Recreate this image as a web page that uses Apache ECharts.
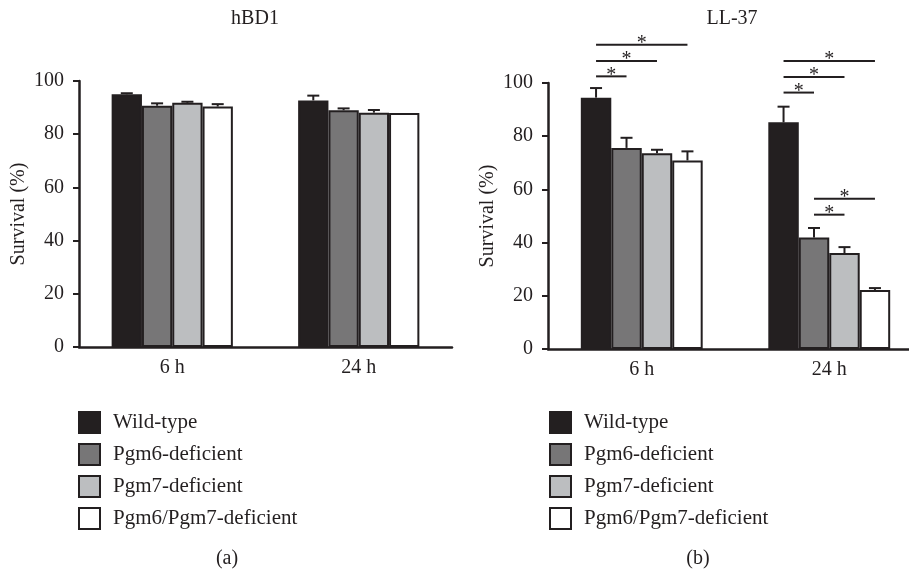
<!DOCTYPE html>
<html>
<head>
<meta charset="utf-8">
<script src="https://cdn.jsdelivr.net/npm/echarts@6/dist/echarts.min.js"></script>
<style>
  html, body { margin: 0; padding: 0; background: #fff; }
  #chart { width: 909px; height: 571px; }
</style>
</head>
<body>
<div id="chart"></div>
<script>
// categories and groups
const categories = ['6 h', '24 h']
const groups = ['Wild-type', 'Pgm6-deficient', 'Pgm7-deficient', 'Pgm6/Pgm7-deficient']
const yTicks = [0, 20, 40, 60, 80, 100]

// hBD1 survival (%) per group, [6 h, 24 h]
const hbd1Means = [[95.0, 92.7], [90.7, 89.0], [91.8, 88.1], [90.4, 88.0]]
const hbd1Errors = [[0.4, 1.8], [0.9, 0.7], [0.4, 1.0], [0.9, 0.0]]

// LL-37 survival (%) per group, [6 h, 24 h]
const ll37Means = [[94.5, 85.2], [75.6, 41.9], [73.6, 36.1], [70.9, 22.2]]
const ll37Errors = [[3.6, 5.9], [3.8, 3.6], [1.3, 2.2], [3.4, 0.7]]

// significance brackets on LL-37: [category, from group, to group, height]
const ll37Signif = [
  [0, 0, 1, 102.5], [0, 0, 2, 108.3], [0, 0, 3, 114.4],
  [1, 0, 1, 96.4], [1, 0, 2, 102.3], [1, 0, 3, 108.3],
  [1, 1, 2, 50.5], [1, 1, 3, 56.5]
]

const ink = '#231f20'
const fills = ['#231f20', '#777677', '#bcbec0', '#ffffff']
const font = 'Liberation Serif'
const GAP = 0.35

function barX(api, cat, grp, val) {
  const band = api.size([1, 0])[0]
  const bw = band * (1 - GAP) / groups.length
  const c = api.coord([cat, val])
  return [c[0] + (grp - (groups.length - 1) / 2) * bw, c[1]]
}

function errorItem(params, api) {
  const cat = api.value(0), grp = api.value(1), mean = api.value(2), err = api.value(3)
  if (!err) return
  const p = barX(api, cat, grp, mean)
  const top = api.coord([cat, mean + err])[1]
  const st = { stroke: ink, lineWidth: 2 }
  return {
    type: 'group',
    children: [
      { type: 'line', shape: { x1: p[0], y1: p[1], x2: p[0], y2: top }, style: st },
      { type: 'line', shape: { x1: p[0] - 6, y1: top, x2: p[0] + 6, y2: top }, style: st }
    ]
  }
}

function signifItem(params, api) {
  const cat = api.value(0), g1 = api.value(1), g2 = api.value(2), h = api.value(3)
  const a = barX(api, cat, g1, h)
  const b = barX(api, cat, g2, h)
  return {
    type: 'group',
    children: [
      { type: 'line', shape: { x1: a[0], y1: a[1], x2: b[0], y2: b[1] }, style: { stroke: ink, lineWidth: 2 } },
      { type: 'text', x: (a[0] + b[0]) / 2, y: a[1] - 1,
        style: { text: '*', fill: ink, font: '20px ' + font, textAlign: 'center', textVerticalAlign: 'middle' } }
    ]
  }
}

function errData(means, errors) {
  const out = []
  means.forEach((m, g) => m.forEach((v, c) => out.push([c, g, v, errors[g][c]])))
  return out
}

const chart = echarts.init(document.getElementById('chart'))

const grids = [
  { left: 79, top: 81, width: 373, height: 266, outerBoundsMode: 'none' },
  { left: 548, top: 83, width: 375, height: 266, outerBoundsMode: 'none' }
]

const xAxes = grids.map((g, i) => ({
  type: 'category', gridIndex: i, data: categories,
  axisLine: { lineStyle: { color: ink, width: 2.5 } },
  axisTick: { show: false },
  axisLabel: { color: ink, fontSize: 20, fontFamily: font, margin: 11 }
}))

const yAxes = grids.map((g, i) => ({
  type: 'value', gridIndex: i, min: yTicks[0], max: yTicks[yTicks.length - 1], interval: 20,
  name: 'Survival (%)', nameLocation: 'middle', nameGap: 50,
  nameTextStyle: { color: ink, fontSize: 20, fontFamily: font },
  splitLine: { show: false },
  axisLine: { show: true, lineStyle: { color: ink, width: 2.5 } },
  axisTick: { show: true, length: 6, lineStyle: { color: ink, width: 2 } },
  axisLabel: { color: ink, fontSize: 20, fontFamily: font, margin: 15 }
}))

const series = []
;[hbd1Means, ll37Means].forEach((means, i) => {
  means.forEach((vals, g) => {
    series.push({
      name: groups[g], type: 'bar', xAxisIndex: i, yAxisIndex: i,
      data: vals, barGap: 0, barCategoryGap: (GAP * 100) + '%',
      itemStyle: { color: fills[g], borderColor: ink, borderWidth: 2 },
      emphasis: { disabled: true }
    })
  })
})
series.push({ type: 'custom', xAxisIndex: 0, yAxisIndex: 0, renderItem: errorItem, data: errData(hbd1Means, hbd1Errors), z: 5 })
series.push({ type: 'custom', xAxisIndex: 1, yAxisIndex: 1, renderItem: errorItem, data: errData(ll37Means, ll37Errors), z: 5 })
series.push({ type: 'custom', xAxisIndex: 1, yAxisIndex: 1, renderItem: signifItem, data: ll37Signif, z: 5 })

const legendBase = {
  data: groups, orient: 'vertical', top: 411, padding: 0,
  itemWidth: 21, itemHeight: 21, itemGap: 9, icon: 'rect', selectedMode: false,
  itemStyle: { borderColor: ink, borderWidth: 2 },
  textStyle: { color: ink, fontSize: 21, fontFamily: font, padding: [0, 0, 0, 8] }
}

const titleStyle = { color: ink, fontSize: 20, fontWeight: 'normal', fontFamily: font }

chart.setOption({
  animation: false,
  title: [
    { text: 'hBD1', left: 255, top: 9, textAlign: 'center', textStyle: titleStyle, padding: 0 },
    { text: 'LL-37', left: 732, top: 9, textAlign: 'center', textStyle: titleStyle, padding: 0 },
    { text: '(a)', left: 227, top: 549, textAlign: 'center', textStyle: titleStyle, padding: 0 },
    { text: '(b)', left: 698, top: 549, textAlign: 'center', textStyle: titleStyle, padding: 0 }
  ],
  legend: [
    Object.assign({}, legendBase, { left: 78 }),
    Object.assign({}, legendBase, { left: 549 })
  ],
  grid: grids,
  xAxis: xAxes,
  yAxis: yAxes,
  series: series
})
</script>
</body>
</html>
